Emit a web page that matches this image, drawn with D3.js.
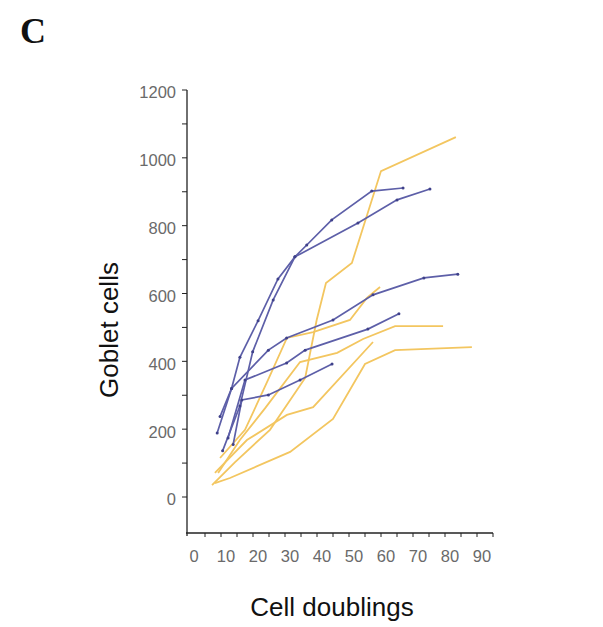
<!DOCTYPE html>
<html>
<head>
<meta charset="utf-8">
<script src="https://cdn.jsdelivr.net/npm/d3@7"></script>
<style>
  body { margin: 0; background: #fff; }
</style>
</head>
<body>
<script>
// cell doublings (x) and goblet cell counts (y) for each culture
var blueSeries = [
  [[8.8,189],[13.3,320],[15.9,412],[21.6,520],[27.8,643],[33.1,708],[36.8,743],[44.6,817],[57.1,902],[66.9,911]],
  [[10.5,136],[15.9,268],[19.9,428],[26.3,581],[33.1,708],[52.8,808],[65,876],[75.3,908]],
  [[9.7,237],[13.3,320],[24.8,433],[30.5,469],[45,522],[57.5,596],[73.4,646],[84,657]],
  [[12.2,174],[17.5,345],[30.5,395],[36.3,433],[55.9,495],[65.6,540]],
  [[13.8,155],[16.5,286],[24.8,301],[34.7,345],[44.7,392]]
];
var yellowSeries = [
  [[7.2,35],[14.4,103],[25.3,198],[36.3,351],[39.9,522],[42.8,631],[50.9,690],[60,961],[83.4,1061]],
  [[9.7,115],[17.5,198],[24.7,345],[30.6,469],[38.8,486],[50.3,522],[55.6,587],[59.7,619]],
  [[9.1,71],[15.9,168],[23.8,262],[34.7,398],[46.3,425],[54.4,466],[64.4,504],[79.4,504]],
  [[8.1,41],[12.8,56],[31.6,133],[45,230],[55,392],[64.4,433],[88.4,442]],
  [[8.1,71],[18.1,168],[30.6,242],[38.8,265],[57.5,457]]
];
var xTicks = [0,10,20,30,40,50,60,70,80,90];
var yTicks = [0,200,400,600,800,1000,1200];

var svg = d3.select("body")
            .append("svg")
            .attr("width",603)
            .attr("height",627)

var x = d3.scaleLinear().domain([0,90]).range([189,477]);
var y = d3.scaleLinear().domain([0,1200]).range([497,90]);
var axisY = 533;

// y axis
svg.append('line')
    .attr('x1',187).attr('x2',187)
    .attr('y1',y(1200)).attr('y2',axisY+3)
    .attr('stroke','#222').attr('stroke-width',1.3);

svg.append('g')
    .selectAll('line')
    .data(d3.range(0,1201,100))
    .enter().append('line')
    .attr('x1',182).attr('x2',187)
    .attr('y1',d => y(d)).attr('y2',d => y(d))
    .attr('stroke','#222').attr('stroke-width',1);

svg.append('g')
    .selectAll('text')
    .data(yTicks)
    .enter().append('text')
    .attr('x',176)
    .attr('y',d => y(d)+4)
    .attr('text-anchor','end')
    .attr('dominant-baseline','middle')
    .attr('font-family','Liberation Sans, Arial, sans-serif')
    .attr('font-size',16.5)
    .attr('fill','#6a6a6a')
    .text(d => d);

// x axis
svg.append('line')
    .attr('x1',186).attr('x2',x(95))
    .attr('y1',axisY).attr('y2',axisY)
    .attr('stroke','#222').attr('stroke-width',1.3);

svg.append('g')
    .selectAll('line')
    .data(d3.range(5,96,5))
    .enter().append('line')
    .attr('x1',d => x(d)).attr('x2',d => x(d))
    .attr('y1',axisY).attr('y2',axisY+4)
    .attr('stroke','#222').attr('stroke-width',1);

svg.append('g')
    .selectAll('text')
    .data(xTicks)
    .enter().append('text')
    .attr('x',d => x(d)+5)
    .attr('y',axisY+29)
    .attr('text-anchor','middle')
    .attr('font-family','Liberation Sans, Arial, sans-serif')
    .attr('font-size',16.5)
    .attr('fill','#6a6a6a')
    .text(d => d);

// lines
var line = d3.line().x(d => x(d[0])).y(d => y(d[1]));

svg.append('g')
    .selectAll('path')
    .data(yellowSeries)
    .enter().append('path')
    .attr('d',line)
    .attr('fill','none')
    .attr('stroke','#f3c660')
    .attr('stroke-width',1.8);

svg.append('g')
    .selectAll('path')
    .data(blueSeries)
    .enter().append('path')
    .attr('d',line)
    .attr('fill','none')
    .attr('stroke','#5d5fa8')
    .attr('stroke-width',1.7);

svg.append('g')
    .selectAll('circle')
    .data(blueSeries.flat())
    .enter().append('circle')
    .attr('cx',d => x(d[0]))
    .attr('cy',d => y(d[1]))
    .attr('r',1.5)
    .attr('fill','#3f418a');

// titles
svg.append('text')
    .attr('transform','translate(118,330) rotate(-90)')
    .attr('text-anchor','middle')
    .attr('font-family','Liberation Sans, Arial, sans-serif')
    .attr('font-size',26)
    .attr('fill','#111')
    .text('Goblet cells');

svg.append('text')
    .attr('x',332)
    .attr('y',616)
    .attr('text-anchor','middle')
    .attr('font-family','Liberation Sans, Arial, sans-serif')
    .attr('font-size',26)
    .attr('fill','#111')
    .text('Cell doublings');

svg.append('text')
    .attr('x',20)
    .attr('y',43)
    .attr('font-family','Liberation Serif, Times New Roman, serif')
    .attr('font-weight','bold')
    .attr('font-size',36)
    .attr('fill','#111')
    .text('C');
</script>
</body>
</html>
